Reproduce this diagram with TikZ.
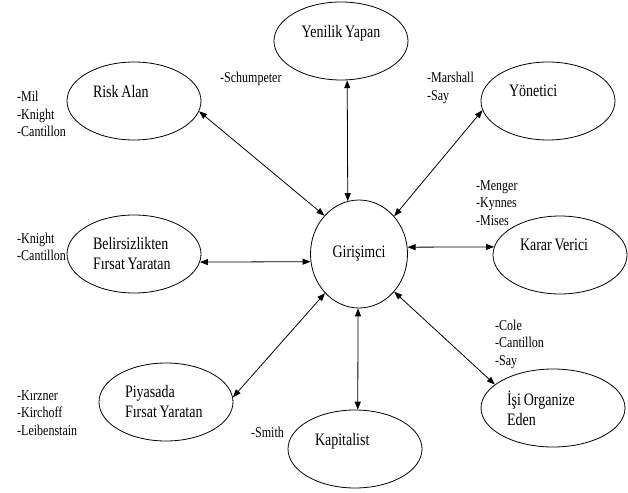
\documentclass[tikz,border=0pt]{standalone}
\usepackage{fontspec}
\setmainfont{Liberation Serif}[FakeStretch=0.8,WordSpace=0.8]
\usetikzlibrary{positioning,arrows.meta,shapes.geometric}

\begin{document}
\begin{tikzpicture}[x=1pt,y=-1pt, >={Triangle[length=8pt,width=6pt]},
  el/.style={draw,ellipse,inner sep=0pt,align=flush left,line width=0.8pt,minimum width=134pt,minimum height=78pt,font=\fontsize{17.5}{20}\selectfont},
  nm/.style={anchor=west,inner sep=0pt,align=left,font=\fontsize{15}{17.5}\selectfont},
  ln/.style={<->,line width=0.8pt}]
  \useasboundingbox (0,0) rectangle (628,492);
  \node[el,minimum width=97pt,minimum height=108pt,align=center] (gir) at (359,254) {Girişimci};
  \node[el,align=center] (yen) at (341,41) {Yenilik Yapan\\\mbox{}};
  \node[el,text width=82pt] (risk) at (134,101) {Risk Alan\\\mbox{}};
  \node[el,text width=78pt] (yon) at (548,101) {Yönetici\\\mbox{}};
  \node[el,text width=80pt] (kar) at (560,255) {Karar Verici\\\mbox{}};
  \node[el,text width=82pt] (bel) at (134,254) {Belirsizlikten\\Fırsat Yaratan};
  \node[el,text width=82pt] (piy) at (166,402) {Piyasada\\Fırsat Yaratan};
  \node[el,text width=80pt] (kap) at (355,449) {Kapitalist\\\mbox{}};
  \node[el,text width=92pt,minimum width=144pt] (isi) at (553,408) {İşi Organize\\Eden};
  % yazarlar
  \node[nm] (n1) at (17,114) {-Mil\\-Knight\\-Cantillon};
  \node[nm] (n2) at (220,79) {-Schumpeter};
  \node[nm] (n3) at (427,88) {-Marshall\\-Say};
  \node[nm] (n4) at (476,203) {-Menger\\-Kynnes\\-Mises};
  \node[nm] (n5) at (17,247) {-Knight\\-Cantillon};
  \node[nm] (n6) at (17,413) {-Kırzner\\-Kirchoff\\-Leibenstain};
  \node[nm] (n7) at (251,432) {-Smith};
  \node[nm] (n8) at (495,344) {-Cole\\-Cantillon\\-Say};
  \draw[ln] (risk.-9) -- (gir.132); \draw[ln] (yen.-81) -- (gir.102); \draw[ln] (yon.-172) -- (gir.47); \draw[ln] (kar.173) -- (gir.8);
  \draw[ln] (bel.-7) -- (gir.-171); \draw[ln] (piy.4) -- (gir.-131); \draw[ln] (kap.86) -- (gir.-91); \draw[ln] (isi.158) -- (gir.-47);
\end{tikzpicture}
\end{document}
